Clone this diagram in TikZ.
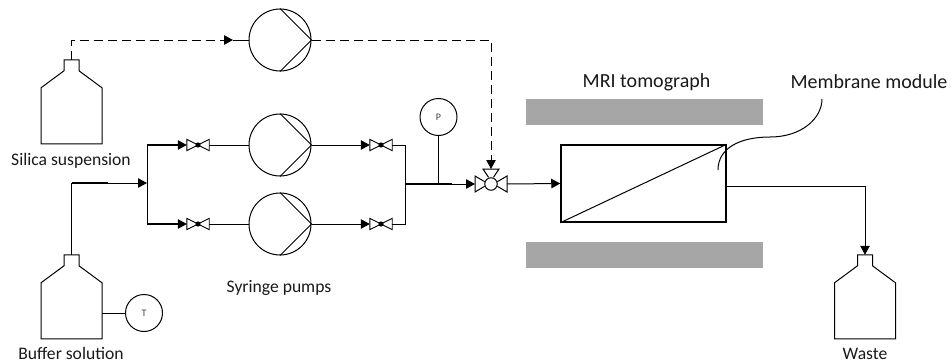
\documentclass[tikz,border=0pt]{standalone}
\usepackage{fontspec}
\setmainfont{Carlito}
\usetikzlibrary{arrows.meta,calc}
\definecolor{ink}{HTML}{000000}
\definecolor{magnet}{HTML}{A6A6A6}
\tikzset{
  arr/.style={draw=ink,-{Triangle[length=9pt,width=9.5pt]},line width=1pt},
  pipe/.style={draw=ink,line width=1pt},
  dashpipe/.style={draw=ink,dash pattern=on 9pt off 5pt,line width=1pt},
  pumpnode/.style={circle,draw=ink,line width=1pt,minimum size=62pt,inner sep=0pt},
  gauge/.style={circle,draw=ink,line width=1pt,minimum size=37pt,inner sep=0pt,font=\fontsize{10}{10}\selectfont,text=ink!75},
  valvenode/.style={rectangle,minimum width=22pt,minimum height=11pt,inner sep=0pt},
  bottlenode/.style={rectangle,minimum width=61pt,minimum height=84pt,inner sep=0pt},
  lbl/.style={inner sep=0pt,font=\fontsize{17.6}{17.6}\selectfont,text=ink!90},
  biglbl/.style={inner sep=0pt,font=\fontsize{20}{20}\selectfont,text=ink!90},
  magnetbar/.style={fill=magnet,draw=none,minimum width=237pt,minimum height=26pt,inner sep=0pt},
}
\newcommand{\drawbottle}[1]{%
  \draw[pipe] ($(#1.north)+(-7.5,0)$) -- ($(#1.north)+(7.5,0)$) -- ($(#1.north)+(7.5,11)$)
    -- ($(#1.north)+(30.5,28)$) -- ($(#1.north)+(30.5,84)$) -- ($(#1.north)+(-30.5,84)$)
    -- ($(#1.north)+(-30.5,28)$) -- ($(#1.north)+(-7.5,11)$) -- cycle;}
\newcommand{\drawvalve}[1]{%
  \draw[draw=ink,line width=.9pt] (#1.center) -- (#1.north west) -- (#1.south west) -- cycle;
  \draw[draw=ink,line width=.9pt] (#1.center) -- (#1.north east) -- (#1.south east) -- cycle;
  \fill[ink] (#1.center) circle (2.6pt);}
\newcommand{\drawpump}[1]{%
  \draw[pipe] (#1.north) -- (#1.east) -- (#1.south);}
\begin{document}
\begin{tikzpicture}[x=1pt,y=-1pt]
\useasboundingbox (0,0) rectangle (951,364);
% magnets
\node[magnetbar] (magtop) at (644.5,112) {};
\node[magnetbar] (magbot) at (644.5,255) {};
% bottles
\node[bottlenode] (silica) at (71.5,102) {};
\node[bottlenode] (buffer) at (71.5,297) {};
\node[bottlenode] (waste) at (865,297) {};
\drawbottle{silica}\drawbottle{buffer}\drawbottle{waste}
% pumps
\node[pumpnode] (p1) at (280,40) {};
\node[pumpnode] (p2) at (280,145) {};
\node[pumpnode] (p3) at (280,224) {};
\drawpump{p1}\drawpump{p2}\drawpump{p3}
% gauges
\node[gauge] (T) at (144,313) {T};
\node[gauge] (P) at (438.5,117) {P};
% valves
\node[valvenode] (v1) at (198,145) {};
\node[valvenode] (v2) at (198,224) {};
\node[valvenode] (v3) at (381,145) {};
\node[valvenode] (v4) at (381,224) {};
\drawvalve{v1}\drawvalve{v2}\drawvalve{v3}\drawvalve{v4}
% three-way valve
\node[circle,draw=ink,line width=1pt,minimum size=12.5pt,inner sep=0pt] (tv) at (491,184) {};
\coordinate (tvl) at (475,184);
\coordinate (tvr) at (507,184);
\coordinate (tvt) at (491,169);
\draw[draw=ink,line width=1pt] (tv.160) -- ($(tvl)+(0,-8)$) -- ($(tvl)+(0,8)$) -- (tv.200);
\draw[draw=ink,line width=1pt] (tv.20) -- ($(tvr)+(0,-8)$) -- ($(tvr)+(0,8)$) -- (tv.340);
\draw[draw=ink,line width=1pt] ($(tv.90)+(-2.5,0)$) -- ($(tvt)+(-8,0)$) -- ($(tvt)+(8,0)$) -- ($(tv.90)+(2.5,0)$);
% membrane
\node[draw=ink,line width=1.5pt,minimum width=165pt,minimum height=77pt,inner sep=0pt] (mod) at (643.5,183.5) {};
\draw[pipe] (mod.south west) -- (mod.north east);
% junction coordinates
\coordinate (jl) at (147,183);
\coordinate (jr) at (405.5,184);
\coordinate (wbend) at (865,186);
\coordinate (ja) at (71.5,40);
\coordinate (jb) at (491,40);
\coordinate (jc) at (71.5,183);
\coordinate (dashend) at (491,158);
\coordinate (p1in) at (225,40);
\coordinate (jlt) at (147,145);
\coordinate (jlb) at (147,224);
% connectors
\draw[dashpipe] (silica.north) -- (ja) -- (p1in);
\draw[arr] (p1in) -- (233,40);
\draw[pipe] (233,40) -- (p1.west);
\draw[dashpipe] (p1.east) -- (jb) -- (dashend);
\draw[arr] (dashend) -- (tvt);
\draw[arr] (buffer.north) -- (jc) -- (jl);
\draw[line width=1.8pt,draw=ink] (jc) -- (108,183);
\draw[pipe] (jlt) -- (jlb);
\draw[arr,line width=1.3pt] (jlt) -- (v1.west);
\draw[arr,line width=1.3pt] (jlb) -- (v2.west);
\draw[pipe] (v1.east) -- (p2.west);
\draw[pipe] (v2.east) -- (p3.west);
\draw[arr] (p2.east) -- (v3.west);
\draw[arr] (p3.east) -- (v4.west);
\draw[pipe] (v3.east) -- (jr |- v3.east) -- (jr |- v4.east) -- (v4.east);
\draw[arr] (jr) -- (tvl);
\draw[line width=1.8pt,draw=ink] (jr) -- (452,184);
\draw[pipe] (P.south) -- (P.south |- jr);
\draw[arr] (tvr) -- (mod.west);
\draw[arr] (mod.east |- wbend) -- (wbend) -- (waste.north);
\draw[pipe] (buffer.east |- T) -- (T.west);
\draw[draw=ink,line width=1pt] (822,99) .. controls (822,118) and (802,137) .. (770,137) .. controls (740,137) and (718,148) .. (718,170);
% labels
\node[lbl] (tsilica) at (71,160.5) {Silica suspension};
\node[lbl] (tbuffer) at (71,353.5) {Buffer solution};
\node[lbl] (twaste) at (865,354) {Waste};
\node[lbl] (tsyringe) at (279,288) {Syringe pumps};
\node[biglbl] (tmri) at (646.5,82) {MRI tomograph};
\node[biglbl] (tmem) at (869,82) {Membrane module};
\end{tikzpicture}
\end{document}
